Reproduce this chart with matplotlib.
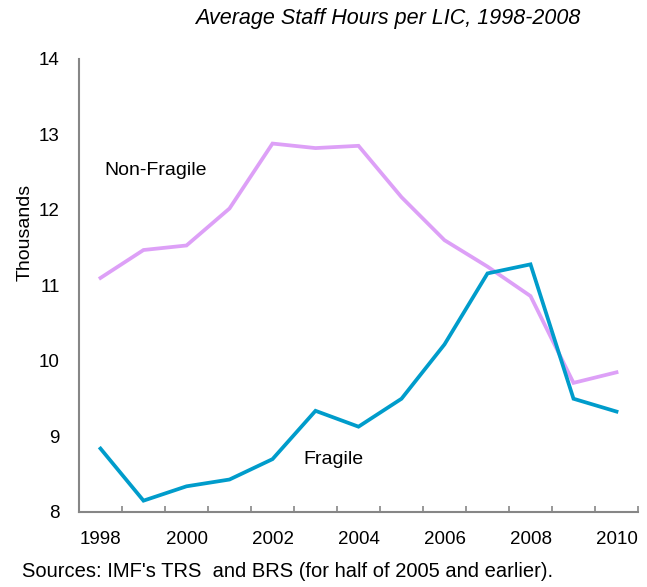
import numpy as np
import matplotlib.pyplot as plt

plt.rcParams['font.family'] = ['Liberation Sans', 'DejaVu Sans']

# Datos (miles de horas)
years = list(range(1998, 2011))
non_fragile = [11.10, 11.47, 11.53, 12.02, 12.88, 12.82, 12.85, 12.17, 11.60, 11.25, 10.86, 9.71, 9.85]
fragile = [8.84, 8.15, 8.34, 8.43, 8.70, 9.34, 9.13, 9.50, 10.22, 11.16, 11.28, 9.50, 9.33]
tick_labels = ['1998', '2000', '2002', '2004', '2006', '2008', '2010']

fig = plt.figure(figsize=(6.47, 5.87), dpi=100)
ax = fig.add_axes([0.1221, 0.1278, 0.8640, 0.7717])

x = np.arange(len(years))
ax.plot(x, non_fragile, color='#DDA0F7', lw=2.7, solid_joinstyle='miter')
ax.plot(x, fragile, color='#009CCB', lw=2.7, solid_joinstyle='miter')

ax.set_xlim(-0.5, len(years) - 0.5)
ax.set_ylim(8, 14)

# Ejes estilo categoría: marcas entre categorías, etiquetas en el centro
ax.set_xticks(np.arange(-0.5, len(years)), minor=True)
ax.set_xticks(x[::2])
ax.set_xticklabels(tick_labels)
ax.tick_params(axis='x', which='major', length=0, pad=14, labelsize=13.5)
ax.tick_params(axis='x', which='minor', direction='in', length=4, width=1.2, color='#868686')
ax.set_yticks(range(8, 15))
ax.tick_params(axis='y', length=0, pad=14, labelsize=13.5)

for s in ['top', 'right']:
    ax.spines[s].set_visible(False)
for s in ['left', 'bottom']:
    ax.spines[s].set_color('#868686')
    ax.spines[s].set_linewidth(1.5)

ax.set_ylabel('Thousands', fontsize=14)
ax.yaxis.set_label_coords(-0.082, 0.618)

fig.text(0.599, 0.969, 'Average Staff Hours per LIC, 1998-2008', fontsize=15.5,
         style='italic', ha='center', va='center')

ax.text(0.1, 12.52, 'Non-Fragile', fontsize=14, va='center', ha='left')
ax.text(4.72, 8.70, 'Fragile', fontsize=14, va='center', ha='left')

fig.text(0.034, 0.0256, "Sources: IMF's TRS  and BRS (for half of 2005 and earlier).",
         fontsize=14.5, ha='left', va='center')

plt.savefig('out.png', dpi=100)
